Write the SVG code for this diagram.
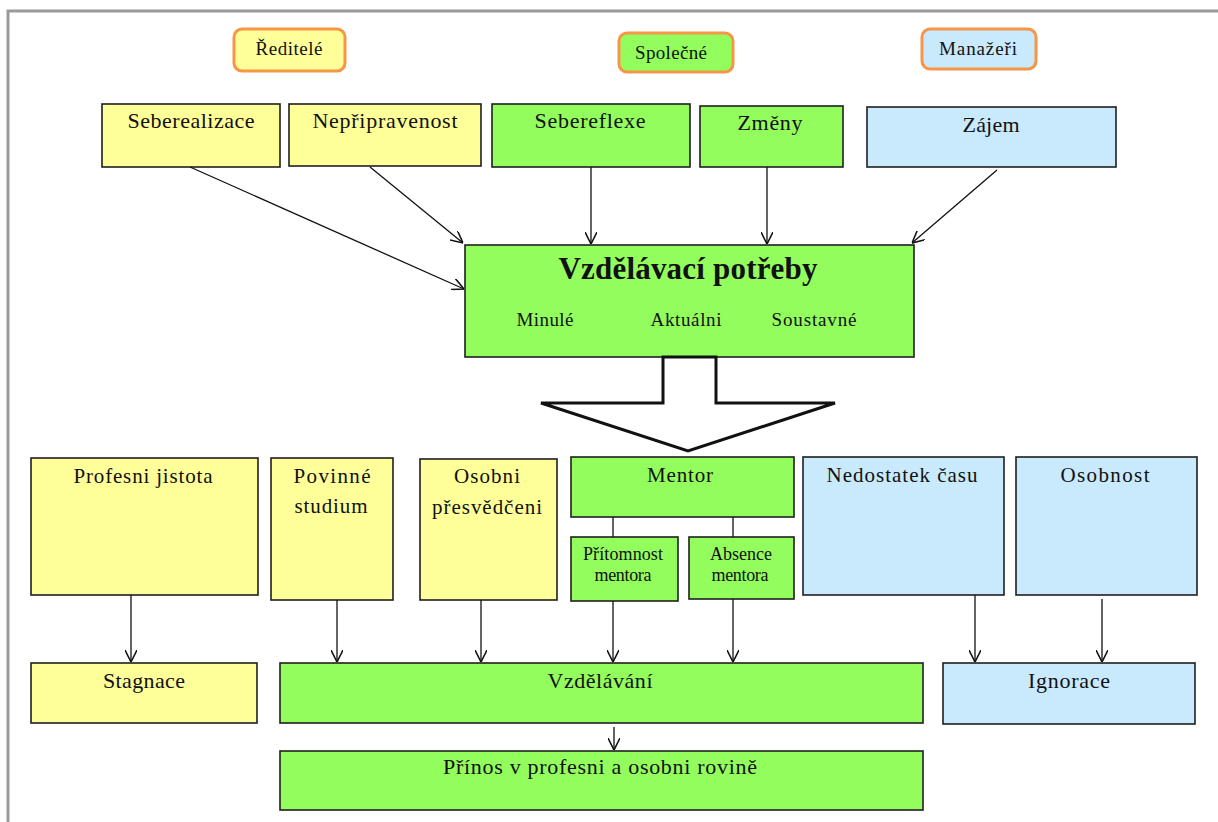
<svg xmlns="http://www.w3.org/2000/svg" width="1218" height="822" viewBox="0 0 1218 822">
<defs>
<style>
.box{stroke:#1e1e1e;stroke-width:1.6}
.y{fill:#ffff99}
.g{fill:#93fd5d}
.b{fill:#c9e9fd}
.pill{stroke:#f79646;stroke-width:3}
text{font-family:"Liberation Serif","Times New Roman",serif;fill:#111;text-anchor:middle}
.t22{font-size:22px}
.t21{font-size:21px}
.tb{font-size:22px}
.t19{font-size:19px}
.t18{font-size:18px}
.big{font-size:31px;font-weight:bold}
.c{stroke:#111;stroke-width:1.3;fill:none}
</style>
<marker id="ah" markerUnits="userSpaceOnUse" markerWidth="12" markerHeight="12" refX="10" refY="5" orient="auto" viewBox="0 0 10 10">
<path d="M0,0 L10,5 L0,10" fill="none" stroke="#111" stroke-width="1.3"/>
</marker>
</defs>
<rect width="1218" height="822" fill="#ffffff"/>
<path d="M8,822 L8,11 L1218,11" fill="none" stroke="#9a9a9a" stroke-width="3"/>

<g id="reditele"><rect class="y pill" x="234" y="29" width="111" height="42" rx="8"/><text class="t19" x="289" y="55" textLength="67">Ředitelé</text></g>
<g id="spolecne"><rect class="g pill" x="619" y="33" width="114" height="39" rx="8"/><text class="t19" x="671" y="59" textLength="72">Společné</text></g>
<g id="manazeri"><rect class="b pill" x="922" y="29" width="114" height="40" rx="8"/><text class="t19" x="978" y="55" textLength="78">Manažeři</text></g>

<g id="seberealizace"><rect class="box y" x="102" y="104" width="178" height="63"/><text class="t22" x="191" y="128" textLength="127">Seberealizace</text></g>
<g id="nepripravenost"><rect class="box y" x="289" y="104" width="192" height="62"/><text class="t22" x="385" y="128" textLength="145">Nepřipravenost</text></g>
<g id="sebereflexe"><rect class="box g" x="492" y="104" width="198" height="63"/><text class="t22" x="590" y="128" textLength="111">Sebereflexe</text></g>
<g id="zmeny"><rect class="box g" x="700" y="106" width="143" height="61"/><text class="t22" x="770" y="130" textLength="65">Změny</text></g>
<g id="zajem"><rect class="box b" x="867" y="107" width="249" height="60"/><text class="t22" x="991" y="132" textLength="57">Zájem</text></g>

<g id="vzdelavaci-potreby"><rect class="box g" x="465" y="245" width="449" height="112"/>
<text class="big" x="688" y="279" textLength="259">Vzdělávací potřeby</text>
<text class="t19" x="545" y="326" textLength="57">Minulé</text>
<text class="t19" x="686" y="326" textLength="71">Aktuálni</text>
<text class="t19" x="814" y="326" textLength="85">Soustavné</text>
</g>
<g id="block-arrow"><polygon points="663,357 716,357 716,403 835,403 688,451 541,403 663,403" fill="#ffffff" stroke="#111" stroke-width="3" stroke-linejoin="miter"/></g>

<g id="profesni-jistota"><rect class="box y" x="31" y="458" width="227" height="137"/><text class="t21" x="143" y="483" textLength="139">Profesni jistota</text></g>
<g id="povinne-studium"><rect class="box y" x="271" y="458" width="122" height="142"/><text class="t21" x="332" y="483" textLength="77">Povinné</text><text class="t21" x="331" y="513" textLength="73">studium</text></g>
<g id="osobni-presvedceni"><rect class="box y" x="420" y="459" width="137" height="141"/><text class="t21" x="487" y="483" textLength="66">Osobni</text><text class="t21" x="487" y="514" textLength="110">přesvědčeni</text></g>
<g id="mentor"><rect class="box g" x="571" y="457" width="223" height="60"/><text class="t21" x="680" y="482" textLength="66">Mentor</text></g>
<g id="pritomnost-mentora"><rect class="box g" x="571" y="537" width="107" height="64"/><text class="t18" x="623" y="560" textLength="80">Přítomnost</text><text class="t18" x="623" y="581" textLength="57">mentora</text></g>
<g id="absence-mentora"><rect class="box g" x="689" y="537" width="105" height="62"/><text class="t18" x="741" y="560" textLength="62">Absence</text><text class="t18" x="740" y="581" textLength="57">mentora</text></g>
<g id="nedostatek-casu"><rect class="box b" x="803" y="457" width="201" height="138"/><text class="t21" x="902" y="482" textLength="151">Nedostatek času</text></g>
<g id="osobnost"><rect class="box b" x="1016" y="457" width="181" height="138"/><text class="t21" x="1105" y="482" textLength="89">Osobnost</text></g>

<g id="stagnace"><rect class="box y" x="31" y="663" width="226" height="60"/><text class="tb" x="144" y="688" textLength="82">Stagnace</text></g>
<g id="vzdelavani"><rect class="box g" x="280" y="663" width="643" height="60"/><text class="tb" x="600" y="688" textLength="105">Vzdělávání</text></g>
<g id="ignorace"><rect class="box b" x="943" y="663" width="252" height="61"/><text class="tb" x="1069" y="688" textLength="82">Ignorace</text></g>
<g id="prinos"><rect class="box g" x="280" y="751" width="643" height="59"/><text class="tb" x="600" y="774" textLength="314">Přínos v profesni a osobni rovině</text></g>

<g id="connectors">
<line class="c" x1="190" y1="167" x2="464" y2="289" marker-end="url(#ah)"/>
<line class="c" x1="370" y1="167" x2="463" y2="243" marker-end="url(#ah)"/>
<line class="c" x1="591" y1="167" x2="591" y2="244" marker-end="url(#ah)"/>
<line class="c" x1="767" y1="167" x2="767" y2="244" marker-end="url(#ah)"/>
<line class="c" x1="997" y1="170" x2="912" y2="243" marker-end="url(#ah)"/>
<line class="c" x1="613" y1="517" x2="613" y2="537"/>
<line class="c" x1="733" y1="517" x2="733" y2="537"/>
<line class="c" x1="131" y1="595" x2="131" y2="662" marker-end="url(#ah)"/>
<line class="c" x1="337" y1="600" x2="337" y2="662" marker-end="url(#ah)"/>
<line class="c" x1="481" y1="600" x2="481" y2="662" marker-end="url(#ah)"/>
<line class="c" x1="613" y1="601" x2="613" y2="662" marker-end="url(#ah)"/>
<line class="c" x1="733" y1="599" x2="733" y2="662" marker-end="url(#ah)"/>
<line class="c" x1="975" y1="595" x2="975" y2="662" marker-end="url(#ah)"/>
<line class="c" x1="1102" y1="599" x2="1102" y2="662" marker-end="url(#ah)"/>
<line class="c" x1="614" y1="727" x2="614" y2="750" marker-end="url(#ah)"/>
</g>
</svg>
